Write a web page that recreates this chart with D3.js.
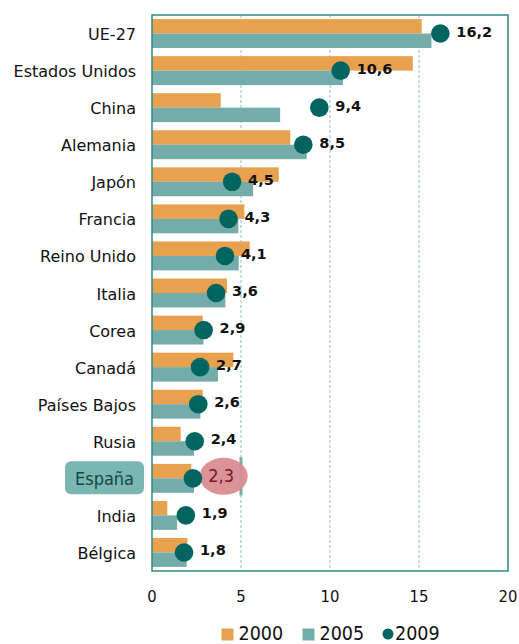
<!DOCTYPE html>
<html>
<head>
<meta charset="utf-8">
<script src="https://cdn.jsdelivr.net/npm/d3@7"></script>
<style>
  body { margin: 0; background: #fff; }
  svg { display: block; }
</style>
</head>
<body>
<div id="chart"></div>
<script>
var categories = ["UE-27", "Estados Unidos", "China", "Alemania", "Japón", "Francia", "Reino Unido", "Italia", "Corea", "Canadá", "Países Bajos", "Rusia", "España", "India", "Bélgica"];
var values2000 = [15.15, 14.65, 3.86, 7.77, 7.12, 5.19, 5.49, 4.21, 2.85, 4.57, 2.85, 1.61, 2.21, 0.86, 1.99];
var values2005 = [15.7, 10.73, 7.2, 8.69, 5.68, 4.85, 4.87, 4.12, 2.89, 3.71, 2.72, 2.36, 2.36, 1.41, 1.95];
var values2009 = [16.2, 10.6, 9.4, 8.5, 4.5, 4.3, 4.1, 3.6, 2.9, 2.7, 2.6, 2.4, 2.3, 1.9, 1.8];
var xTicks = [0, 5, 10, 15, 20];
var seriesNames = ["2000", "2005", "2009"];
var highlight = "España";

function main(){
    var canvasWidth = 519;
    var canvasHeight = 644;
    var left = 152, right = 508, top = 15, bottom = 571;
    var cond = "'DejaVu Sans Condensed', 'DejaVu Sans', sans-serif";
    var wide = "'DejaVu Sans', sans-serif";

    var orange = "#e8a14f", teal = "#74aca9", dark = "#00655f", frame = "#2f8a83";

    var svg = d3.select("#chart").append("svg")
        .attr("width", canvasWidth)
        .attr("height", canvasHeight);

    var xScale = d3.scaleLinear().domain([0, 20]).range([left, right]);
    var yScale = d3.scaleBand().domain(categories).range([top, bottom]);
    var band = yScale.bandwidth();
    var barH = band * 0.39;

    var data = categories.map(function(c, i){
        return {name: c, a: values2000[i], b: values2005[i], c: values2009[i]};
    });

    // grid lines
    svg.selectAll(".grid")
        .data(xTicks.slice(1, -1))
        .enter().append("line")
        .attr("x1", function(d){ return xScale(d); })
        .attr("x2", function(d){ return xScale(d); })
        .attr("y1", top).attr("y2", bottom)
        .attr("stroke", "#8fbfbb")
        .attr("stroke-width", 1)
        .attr("stroke-dasharray", "3,2");

    // bars 2000
    svg.selectAll(".bar2000")
        .data(data)
        .enter().append("rect")
        .attr("x", xScale(0))
        .attr("y", function(d){ return yScale(d.name) + band / 2 - barH; })
        .attr("width", function(d){ return xScale(d.a) - xScale(0); })
        .attr("height", barH)
        .attr("fill", orange);

    // bars 2005
    svg.selectAll(".bar2005")
        .data(data)
        .enter().append("rect")
        .attr("x", xScale(0))
        .attr("y", function(d){ return yScale(d.name) + band / 2; })
        .attr("width", function(d){ return xScale(d.b) - xScale(0); })
        .attr("height", barH)
        .attr("fill", teal);

    // highlight for España
    var hy = yScale(highlight) + band / 2;
    svg.append("rect")
        .attr("x", xScale(5) - 1.5)
        .attr("y", hy - 21)
        .attr("width", 3)
        .attr("height", 38)
        .attr("fill", teal);
    svg.append("ellipse")
        .attr("cx", xScale(4) + 0.5)
        .attr("cy", hy - 2)
        .attr("rx", 24)
        .attr("ry", 18.5)
        .attr("fill", "#d98d92")
        .attr("opacity", 0.95);

    // dots 2009
    svg.selectAll(".dot")
        .data(data)
        .enter().append("circle")
        .attr("cx", function(d){ return xScale(d.c); })
        .attr("cy", function(d){ return yScale(d.name) + band / 2; })
        .attr("r", 9.3)
        .attr("fill", dark);

    // value labels
    svg.selectAll(".val")
        .data(data)
        .enter().append("text")
        .attr("x", function(d){ return d.name === highlight ? xScale(4) - 2 : xScale(d.c) + 16; })
        .attr("y", function(d){ return yScale(d.name) + band / 2 + (d.name === highlight ? 4 : 3); })
        .attr("text-anchor", function(d){ return d.name === highlight ? "middle" : "start"; })
        .attr("font-family", function(d){ return d.name === highlight ? cond : wide; })
        .attr("font-weight", function(d){ return d.name === highlight ? "normal" : "bold"; })
        .attr("font-size", function(d){ return d.name === highlight ? "18px" : "14.5px"; })
        .attr("fill", function(d){ return d.name === highlight ? "#7a1424" : "#111"; })
        .text(function(d){ return String(d.c).replace(".", ","); });

    // frame
    svg.append("rect")
        .attr("x", left).attr("y", top)
        .attr("width", right - left).attr("height", bottom - top)
        .attr("fill", "none")
        .attr("stroke", frame)
        .attr("stroke-width", 1.5);

    // category labels
    svg.append("rect")
        .attr("x", 65).attr("y", hy - 17)
        .attr("width", 79).attr("height", 33)
        .attr("rx", 6)
        .attr("fill", "#7cb6b3");

    svg.selectAll(".cat")
        .data(categories)
        .enter().append("text")
        .attr("x", function(d){ return d === highlight ? 104.5 : 136; })
        .attr("y", function(d){ return yScale(d) + band / 2 + 6.5; })
        .attr("text-anchor", function(d){ return d === highlight ? "middle" : "end"; })
        .attr("font-family", function(d){ return d === highlight ? cond : wide; })
        .attr("font-size", function(d){ return d === highlight ? "18px" : "16px"; })
        .attr("fill", function(d){ return d === highlight ? "#0e4a46" : "#111"; })
        .text(function(d){ return d; });

    // x axis labels
    svg.selectAll(".tick")
        .data(xTicks)
        .enter().append("text")
        .attr("x", function(d){ return xScale(d); })
        .attr("y", 601.5)
        .attr("text-anchor", "middle")
        .attr("font-family", cond)
        .attr("font-size", "16.5px")
        .attr("fill", "#111")
        .text(function(d){ return d; });

    // legend
    var legend = svg.append("g");
    var lx = [221.5, 302.5, 388];
    var lcol = [orange, teal, dark];
    seriesNames.forEach(function(s, i){
        if (i < 2) {
            legend.append("rect")
                .attr("x", lx[i]).attr("y", 628.5)
                .attr("width", 12).attr("height", 12)
                .attr("fill", lcol[i]);
        } else {
            legend.append("circle")
                .attr("cx", lx[i]).attr("cy", 634)
                .attr("r", 5.5)
                .attr("fill", lcol[i]);
        }
        legend.append("text")
            .attr("x", i < 2 ? lx[i] + 17 : lx[i] + 7)
            .attr("y", 640)
            .attr("font-family", cond)
            .attr("font-size", "19.5px")
            .attr("fill", "#111")
            .text(s);
    });
}

main()
</script>
</body>
</html>
